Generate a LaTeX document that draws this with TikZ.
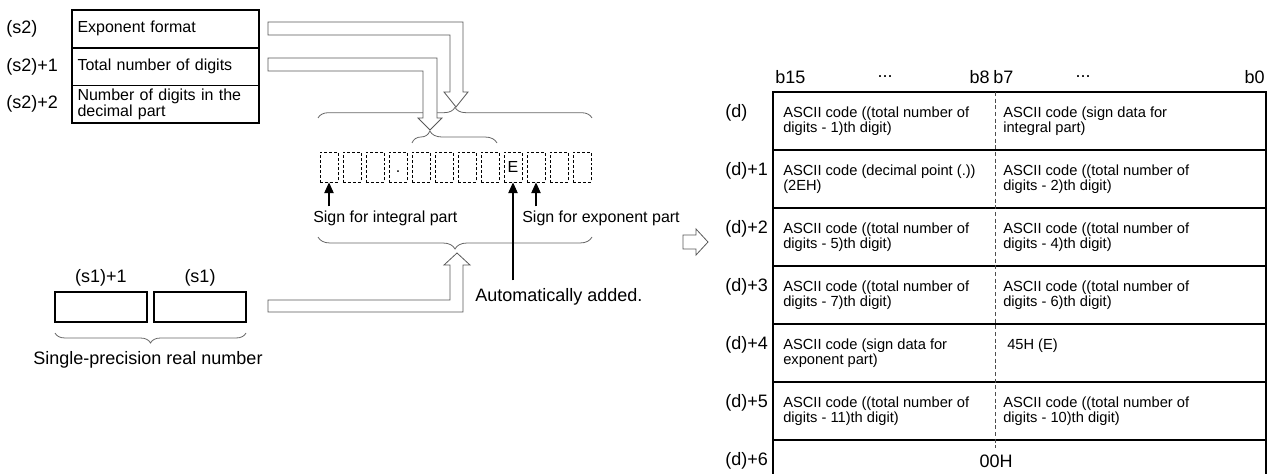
\documentclass[tikz,border=0pt]{standalone}
\usepackage{fontspec}
\setmainfont{Liberation Sans}
\usetikzlibrary{arrows.meta, positioning, calc, decorations.pathreplacing}

\begin{document}
\begin{tikzpicture}[
    x=0.75pt, y=-0.75pt,
    lbl/.style={font=\fontsize{13.5}{15}\selectfont, inner sep=0pt},
    txt/.style={font=\fontsize{12}{14}\selectfont, inner sep=0pt},
    cell/.style={font=\fontsize{11}{11.3}\selectfont, inner sep=0pt, anchor=north west, align=left},
    fmtbox/.style={rectangle, draw, line width=1.3pt, minimum width=140.25pt, minimum height=28.3pt, text width=132pt, align=left, inner sep=0pt, outer sep=0pt, font=\fontsize{12}{9.5}\selectfont},
    digit/.style={rectangle, draw, dash pattern=on 2.2pt off 1.5pt, line width=0.6pt, minimum width=13.5pt, minimum height=22.5pt, inner sep=0pt, font=\fontsize{12}{12}\selectfont},
    wordbox/.style={rectangle, draw, line width=1.1pt, minimum width=69pt, minimum height=22.5pt, outer sep=0pt},
    hollow/.style={draw=black!65, line width=0.6pt, fill=white},
    curly/.style={draw=black!60, line width=0.6pt, decorate, decoration={brace, amplitude=#1}},
    pointer/.style={draw, line width=0.8pt, -{Triangle[length=8pt, width=7pt]}},
    rowline/.style={draw, line width=1.1pt},
]
\useasboundingbox (0,0) rectangle (1269,474);

\node[lbl, anchor=west] (s2a) at (6,28.8) {(s2)};
\node[lbl, anchor=west] (s2b) at (6,66.5) {(s2)+1};
\node[lbl, anchor=west] (s2c) at (6,104.2) {(s2)+2};
\node[fmtbox] (fmt) at (165.5,28.8) {Exponent format};
\node[fmtbox, below=0pt of fmt] (total) {Total number of digits};
\node[fmtbox, below=0pt of total] (decpart) {Number of digits in the\\decimal part};

\foreach \i/\ch in {0/{},1/{},2/{},3/.,4/{},5/{},6/{},7/{},8/E,9/{},10/{},11/{}}
  \node[digit] (c\i) at (329+23*\i,167) {\vphantom{E}\ch};

\draw[curly=8pt] (318,118) -- (592,118);
\draw[curly=9pt, decoration={aspect=0.21}] (412,143) -- (497,143);
\draw[curly=9pt] (592,237) -- (318,237);

\draw[hollow] (268,22) -| (463,92) -- (468,92) -- (456,107) -- (444,92) -- (450,92) |- (268,35) -- cycle;
\draw[hollow] (268,58) -| (437,118) -- (442,118) -- (430,130) -- (418,118) -- (423,118) |- (268,71) -- cycle;

\node[txt, anchor=west] (signint) at (313,218) {Sign for integral part};
\node[txt, anchor=west] (signexp) at (522,218) {Sign for exponent part};
\node[lbl, anchor=west] (auto) at (475,297) {Automatically added.};
\draw[pointer] ([yshift=3pt]c0 |- signint.north) -- (c0.south);
\draw[pointer] ([yshift=3pt]c9 |- signexp.north) -- (c9.south);
\draw[pointer] ([yshift=6pt]c8 |- auto.north) -- (c8.south);

\node[wordbox] (s1hi) at (101,307) {};
\node[wordbox, right=5.25pt of s1hi] (s1lo) {};
\node[lbl, above=4pt of s1hi] (s1hilbl) {(s1)+1};
\node[lbl, above=4pt of s1lo] (s1lolbl) {(s1)};
\draw[curly=7.5pt] (246,333) -- (55,333);
\node[lbl] (single) at (148,360) {Single-precision real number};

\draw[hollow] (268,300) -| (450,265) -- (444,265) -- (457,253) -- (470,265) -- (463,265) |- (268,312) -- cycle;
\draw[hollow] (683,235) -- (696,235) -- (696,229) -- (708,242) -- (696,255) -- (696,249) -- (683,249) -- cycle;

\node[lbl, anchor=west] (b15) at (775,77) {b15};
\node[lbl] (dots1) at (885,77) {...};
\node[lbl, anchor=east] (b8) at (990,77) {b8};
\node[lbl, anchor=west] (b7) at (993,77) {b7};
\node[lbl] (dots2) at (1083,77) {...};
\node[lbl, anchor=east] (b0) at (1265,77) {b0};

\draw[line width=1.3pt] (773,92) rectangle (1266,490);
\foreach \y in {150,208,266,324,382,440}
  \draw[rowline] (773,\y) -- (1266,\y);
\draw[black!70, line width=0.6pt, dash pattern=on 3pt off 2pt] (995,92) -- (995,480);

\node[lbl, anchor=west] (d0) at (725,113) {(d)};
\node[lbl, anchor=west] (d1) at (725,171) {(d)+1};
\node[lbl, anchor=west] (d2) at (725,229) {(d)+2};
\node[lbl, anchor=west] (d3) at (725,287) {(d)+3};
\node[lbl, anchor=west] (d4) at (725,345) {(d)+4};
\node[lbl, anchor=west] (d5) at (725,403) {(d)+5};
\node[lbl, anchor=west] (d6) at (725,461) {(d)+6};

\node[cell] (hi0) at (783,107) {ASCII code ((total number of\\digits - 1)th digit)};
\node[cell] (lo0) at (1003,107) {ASCII code (sign data for\\integral part)};
\node[cell] (hi1) at (783,165) {ASCII code (decimal point (.))\\(2EH)};
\node[cell] (lo1) at (1003,165) {ASCII code ((total number of\\digits - 2)th digit)};
\node[cell] (hi2) at (783,223) {ASCII code ((total number of\\digits - 5)th digit)};
\node[cell] (lo2) at (1003,223) {ASCII code ((total number of\\digits - 4)th digit)};
\node[cell] (hi3) at (783,281) {ASCII code ((total number of\\digits - 7)th digit)};
\node[cell] (lo3) at (1003,281) {ASCII code ((total number of\\digits - 6)th digit)};
\node[cell] (hi4) at (783,339) {ASCII code (sign data for\\exponent part)};
\node[cell] (lo4) at (1007,339) {45H (E)};
\node[cell] (hi5) at (783,397) {ASCII code ((total number of\\digits - 11)th digit)};
\node[cell] (lo5) at (1003,397) {ASCII code ((total number of\\digits - 10)th digit)};
\node[lbl, fill=white, minimum height=20pt, minimum width=30pt] (nul) at (996,461) {00H};
\end{tikzpicture}
\end{document}
